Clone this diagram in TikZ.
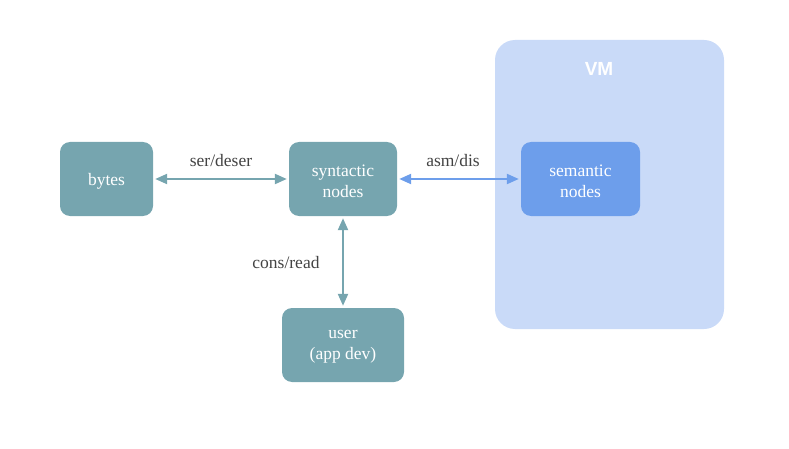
\documentclass[tikz,border=0pt]{standalone}
\usepackage{fontspec}
\setmainfont{Liberation Serif}
\newfontfamily\vmfont{Liberation Sans}
\usetikzlibrary{arrows.meta, positioning}
\definecolor{tealbox}{HTML}{76A5AF}
\definecolor{bluebox}{HTML}{6D9EEB}
\definecolor{vmback}{HTML}{C9DAF8}
\definecolor{labelgray}{HTML}{434343}

\begin{document}
\begin{tikzpicture}[
    x=1pt, y=-1pt,
    box/.style={rectangle, rounded corners=10pt, fill=tealbox, text=white, align=center, minimum height=74pt, inner sep=0pt, font=\fontsize{17.5}{21}\selectfont},
    txt/.style={text=white, align=center, font=\fontsize{17.5}{21}\selectfont},
    vm/.style={rectangle, rounded corners=20pt, fill=vmback, minimum width=229pt, minimum height=289pt},
    lbl/.style={text=labelgray, font=\fontsize{17.5}{21}\selectfont},
    arrow/.style={{Triangle[length=12pt,width=10pt]}-{Triangle[length=12pt,width=10pt]}, line width=2.2pt, draw=tealbox}
]
\useasboundingbox (0,0) rectangle (789,449);

% VM region
\node[vm] (vmbox) at (609.5,184.5) {};
\node[font=\vmfont\bfseries\fontsize{19}{22}\selectfont, text=white] (vmlabel) at (599,69) {VM};

% Nodes
\node[box, minimum width=93pt] (bytes) at (106.5,179) {};
\node[box, minimum width=108pt] (syn) at (343,179) {};
\node[box, minimum width=119pt, fill=bluebox] (sem) at (580.5,179) {};
\node[box, minimum width=122pt] (user) at (343,345) {};

% Node texts
\node[txt] (bytestxt) at (106.5,181) {bytes};
\node[txt] (syntxt) at (343,181) {syntactic\\nodes};
\node[txt] (semtxt) at (580.5,181) {semantic\\nodes};
\node[txt] (usertxt) at (343,347) {user\\(app dev)};

% Connections
\draw[arrow, shorten <=2pt, shorten >=2pt] (bytes) -- (syn);
\draw[arrow, draw=bluebox, shorten <=2pt, shorten >=2pt] (syn) -- (sem);
\draw[arrow, shorten <=2pt, shorten >=2pt] (syn) -- (user);

% Labels
\node[lbl] (serlbl) at (221,161) {ser/deser};
\node[lbl] (asmlbl) at (453,161) {asm/dis};
\node[lbl] (conslbl) at (286,263) {cons/read};
\end{tikzpicture}
\end{document}
